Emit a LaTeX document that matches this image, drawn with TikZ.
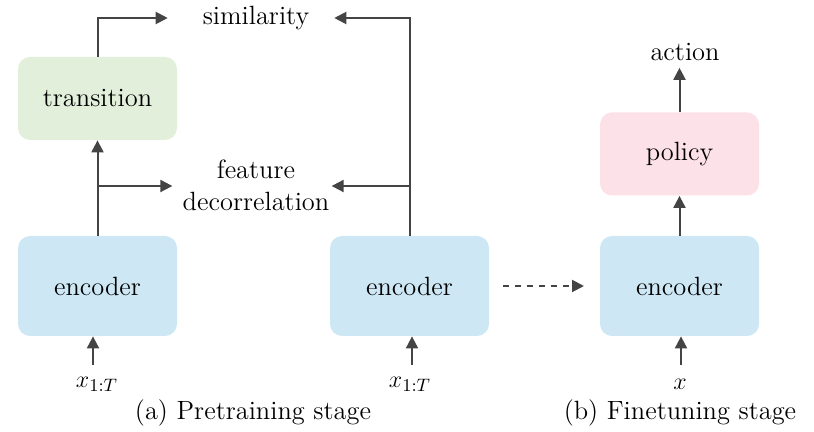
\documentclass[tikz,border=0pt]{standalone}
\usepackage{amsmath,amssymb}
\usepackage{tikz}
\usetikzlibrary{arrows.meta}
\definecolor{boxgreen}{HTML}{E2EFDA}
\definecolor{boxblue}{HTML}{CDE8F4}
\definecolor{boxpink}{HTML}{FDE1E8}
\definecolor{linegray}{HTML}{444444}

\begin{document}
\begin{tikzpicture}[x=0.5pt,y=-0.5pt,font=\fontsize{13.2}{16}\selectfont,
    block/.style={rounded corners=6pt, minimum width=79.5pt, inner sep=0pt},
    arr/.style={draw=linegray, line width=1pt, -{Triangle[length=6pt,width=6pt]}}]
      \useasboundingbox (0,0) rectangle (814,432);
      % pretraining
      \node[block, fill=boxgreen, minimum height=41.5pt] (trans) at (97.5,98.5) {transition};
      \node[block, fill=boxblue, minimum height=50pt] (encA) at (97.5,286) {encoder};
      \node[block, fill=boxblue, minimum height=50pt] (encB) at (409.5,286) {encoder};
      \node (sim) at (256,18) {similarity};
      \node[align=center, inner sep=0pt] (feat) at (256,185) {feature\\decorrelation};
      \node (inA) at (97,384) {$x_{1:T}$};
      \node (inB) at (410,384) {$x_{1:T}$};
      \node (capA) at (253,413) {(a) Pretraining stage};
      % finetuning
      \node[block, fill=boxblue, minimum height=50pt] (encC) at (679.5,286) {encoder};
      \node[block, fill=boxpink, minimum height=41.5pt] (policy) at (679.5,154) {policy};
      \node (act) at (685,52) {action};
      \node (inC) at (680,384) {$x$};
      \node (capB) at (680,413) {(b) Finetuning stage};

      \draw[arr] (encA.north) -- (trans.south);
      \draw[arr] (97.5,186) -- ([xshift=-5pt]feat.west |- 0,186);
      \draw[arr] (trans.north) |- ([xshift=-14pt]sim.west);
      \draw[arr] (encB.north) |- ([xshift=9pt]sim.east);
      \draw[arr] (409.5,186) -- ([xshift=1pt]feat.east |- 0,186);
      \draw[arr, dashed] (503,286) -- (584,286);
      \draw[arr] (encC.north) -- (policy.south);
      \draw[arr] (policy.north) -- (policy.north |- act.south);
      \draw[arr] (93,365) -- (encA.south -| 93,0);
      \draw[arr] (412,365) -- (encB.south -| 412,0);
      \draw[arr] (681,365) -- (encC.south -| 681,0);
\end{tikzpicture}
\end{document}
